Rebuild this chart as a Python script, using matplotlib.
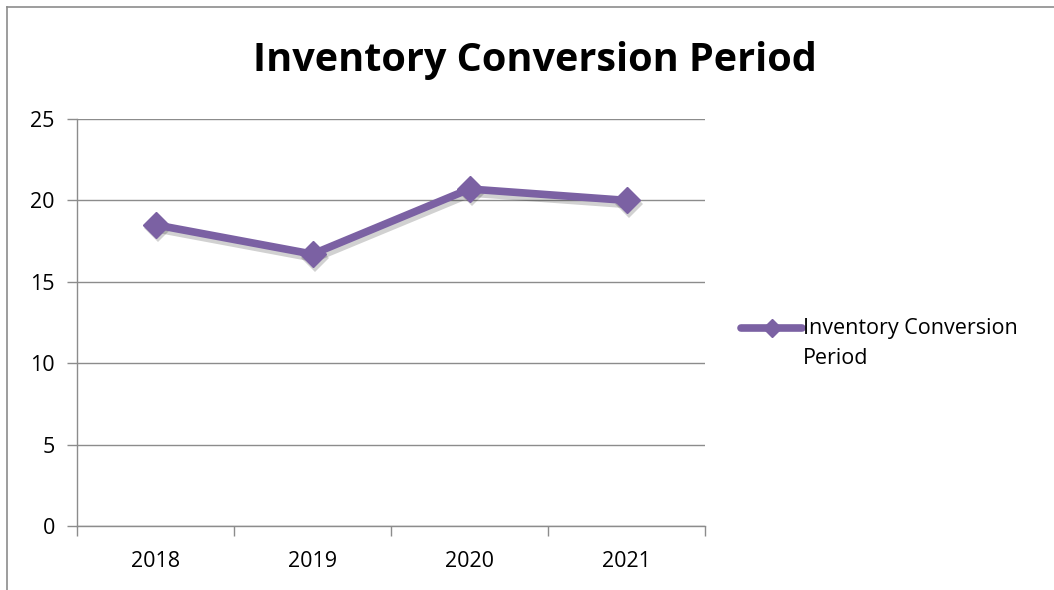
import matplotlib
matplotlib.use("Agg")
import matplotlib.pyplot as plt
from matplotlib.lines import Line2D
from matplotlib.legend_handler import HandlerLine2D
from matplotlib.transforms import offset_copy

years = ["2018", "2019", "2020", "2021"]
conversion_days = [18.5, 16.7, 20.7, 20.0]
y_ticks = [0, 5, 10, 15, 20, 25]
series_name = "Inventory Conversion\nPeriod"
chart_title = "Inventory Conversion Period"

purple = "#7B61A3"
grid_gray = "#8C8C8C"
plt.rcParams["font.family"] = ["Open Sans", "DejaVu Sans"]


class TopLineHandler(HandlerLine2D):
    """Places the legend key level with the first line of a wrapped label."""

    def create_artists(self, legend, orig_handle, xdescent, ydescent,
                       width, height, fontsize, trans):
        return super().create_artists(legend, orig_handle, xdescent,
                                      ydescent - 24, width, height, fontsize, trans)


fig = plt.figure(figsize=(10.54, 5.90), dpi=100)
ax = fig.add_axes([77 / 1054, 1 - 526 / 590, (705 - 77) / 1054, (526 - 119) / 590])

x = list(range(len(years)))
# soft drop shadow under the series
shadow_tr = offset_copy(ax.transData, fig=fig, x=1.5, y=-2.5, units="points")
ax.plot(x, conversion_days, color="black", alpha=0.18, lw=6.5, marker="D", markersize=14,
        markeredgewidth=0, solid_capstyle="round", transform=shadow_tr, zorder=2)
ax.plot(x, conversion_days, color=purple, lw=5.5, marker="D", markersize=13,
        markerfacecolor=purple, markeredgecolor=purple, solid_capstyle="round",
        zorder=3)

ax.set_xlim(-0.5, len(years) - 0.5)
ax.set_ylim(0, 25)
ax.set_yticks(y_ticks)
ax.set_yticklabels([str(v) for v in y_ticks], fontsize=15.5)
ax.set_xticks(x)
ax.set_xticklabels(years, fontsize=15.5)
ax.set_xticks([i - 0.5 for i in range(len(years) + 1)], minor=True)
ax.tick_params(axis="x", which="major", length=0, pad=18)
ax.tick_params(axis="x", which="minor", length=7, color=grid_gray, width=1)
ax.tick_params(axis="y", length=7, color=grid_gray, width=1, pad=9)
ax.yaxis.grid(True, color=grid_gray, lw=1)
ax.set_axisbelow(True)
for s in ["top", "right"]:
    ax.spines[s].set_visible(False)
for s in ["left", "bottom"]:
    ax.spines[s].set_color(grid_gray)
    ax.spines[s].set_linewidth(1)

fig.text(535 / 1054, 1 - 60 / 590, chart_title, ha="center", va="center",
         fontsize=28.5, fontweight="bold")

handle = Line2D([0], [0], color=purple, lw=5.5, marker="D", markersize=9,
                solid_capstyle="round")
leg = fig.legend([handle], [series_name], loc="upper left",
                 bbox_to_anchor=(722 / 1054, 1 - 299 / 590), frameon=False,
                 fontsize=15.5, handlelength=2.8, handletextpad=0.05,
                 handler_map={Line2D: TopLineHandler()})
for t in leg.get_texts():
    t.set_linespacing(1.55)

# outer chart frame
fig.add_artist(Line2D([7 / 1054, 7 / 1054], [0, 1 - 7 / 590], color=grid_gray, lw=1.2,
                      transform=fig.transFigure))
fig.add_artist(Line2D([7 / 1054, 1], [1 - 7 / 590, 1 - 7 / 590], color=grid_gray, lw=1.2,
                      transform=fig.transFigure))

fig.savefig("out.png", dpi=100)
